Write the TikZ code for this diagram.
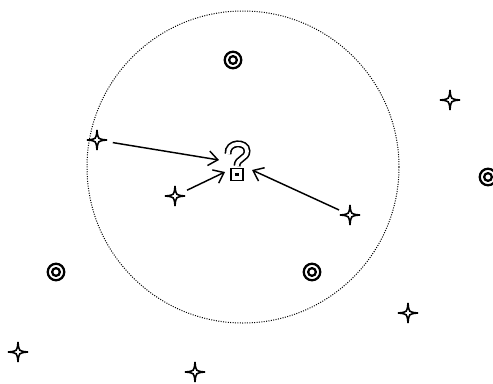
\documentclass[tikz,border=0pt]{standalone}
\usepackage{tikz}
\usetikzlibrary{arrows.meta, calc}
\tikzset{
	sparkle/.pic={
		\draw[line width=1.2pt, fill=white, line join=miter]
			(0,-10) .. controls (0.8,-0.8) .. (10,0)
			.. controls (0.8,0.8) .. (0,10)
			.. controls (-0.8,0.8) .. (-10,0)
			.. controls (-0.8,-0.8) .. (0,-10) -- cycle;
	},
	target/.pic={
		\draw[line width=1.7pt] (0,0) circle (6.2pt);
		\draw[line width=1.7pt] (0,0) circle (2.9pt);
	},
	qline/.style={draw, line width=1.2pt, double=white, double distance=2.8pt},
	pointer/.style={draw, line width=1.1pt, -{Straight Barb[length=7pt, width=11pt]}}
}

\begin{document}
\begin{tikzpicture}[x=0.75pt, y=-0.75pt]
		\useasboundingbox (0,0) rectangle (493,383);
		
		% neighbourhood
		\coordinate (centre) at (243,167);
		\draw[line width=0.75pt, dash pattern=on 0.75pt off 1.05pt] (centre) circle [radius=117pt];
		
		% class one
		\pic at (233,60) {target};
		\pic at (56,272) {target};
		\pic at (312,272) {target};
		\pic at (488,177) {target};
		
		% class two
		\coordinate (s1) at (97,140);
		\coordinate (s2) at (175,196);
		\coordinate (s3) at (350,215);
		\foreach \p in {s1, s2, s3} {
			\pic at (\p) {sparkle};
		}
		\foreach \x/\y in {450/100, 408/313, 18/352, 195/372} {
			\pic at (\x,\y) {sparkle};
		}
		
		% query point
		\draw[qline] (228,154) .. controls (227,141) and (247,141) .. (247,151)
			.. controls (247,159) and (237,158) .. (237,166);
		\draw[qline] (233.5,171) rectangle (240.5,178);
		\coordinate (q1) at (219,160);
		\coordinate (q2) at (225,172);
		\coordinate (q3) at (252,170);
		
		% nearest neighbours
		\draw[pointer, shorten <=12pt] (s1) -- (q1);
		\draw[pointer, shorten <=10pt] (s2) -- (q2);
		\draw[pointer, shorten <=9pt] (s3) -- (q3);
		
	\end{tikzpicture}
\end{document}
